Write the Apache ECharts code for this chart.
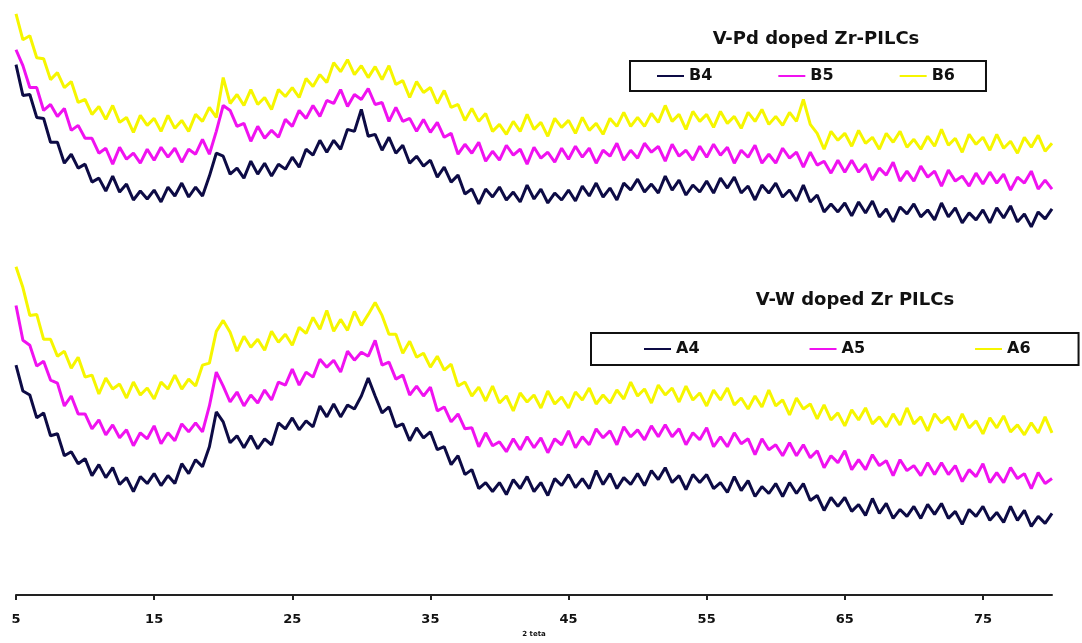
<!DOCTYPE html>
<html>
<head>
<meta charset="utf-8">
<title>XRD V-Pd / V-W doped Zr-PILCs</title>
<script src="https://cdn.jsdelivr.net/npm/echarts@6/dist/echarts.min.js"></script>
<style>
  html, body { margin: 0; padding: 0; background: #fff; }
  #chart { width: 1082px; height: 643px; }
</style>
</head>
<body>
<div id="chart"></div>
<script>
// 2θ sampling grid: 5..80, step 0.5
const twoTheta = [];
for (let t = 5; t <= 80; t += 0.5) twoTheta.push(t);

const tickLabels = [5, 15, 25, 35, 45, 55, 65, 75];

// V-Pd doped Zr-PILCs (upper traces)
const b4 = [533,502,503,480,479,455,455,434,443,429,
  433,415,419,406,421,405,413,397,406,398,
  407,395,410,401,414,400,410,401,421,444,
  441,423,429,419,436,423,434,421,433,428,
  440,430,448,442,457,445,457,448,468,466,
  488,461,463,447,460,444,452,434,441,431,
  437,420,430,415,422,403,408,393,408,400,
  410,397,405,395,412,398,408,394,404,397,
  407,396,411,401,414,400,409,397,414,407,
  418,405,413,404,421,407,417,402,412,405,
  416,404,419,409,420,404,411,397,412,404,
  414,400,407,396,412,395,402,385,393,385,
  394,381,395,384,396,380,388,375,390,383,
  393,380,387,377,394,380,389,374,384,377,
  387,374,389,379,391,375,383,370,385,378,
  388];
const b5 = [548,532,510,510,487,493,481,489,467,472,
  459,459,444,449,433,450,438,444,434,448,
  437,450,440,449,435,448,443,458,443,466,
  492,487,471,474,456,471,459,467,460,478,
  471,487,479,492,481,497,494,508,491,503,
  498,509,493,495,476,490,476,479,466,478,
  465,475,460,464,443,453,444,455,436,446,
  437,452,442,448,433,450,439,445,435,449,
  438,451,440,449,434,447,441,454,437,447,
  439,454,445,451,436,453,441,447,437,451,
  440,453,442,450,434,447,440,452,434,443,
  434,449,439,445,430,445,432,436,424,437,
  425,437,425,433,417,429,422,435,416,426,
  416,431,420,426,411,427,416,421,411,424,
  413,425,414,423,407,420,414,426,408,417,
  408];
const b6 = [584,558,562,540,539,518,525,510,516,495,
  498,483,491,478,492,475,480,465,482,472,
  479,466,482,469,477,466,483,476,490,480,
  520,494,503,492,508,493,500,488,508,501,
  510,500,519,511,523,515,535,526,538,523,
  532,520,531,518,532,513,517,500,516,505,
  510,494,507,490,493,477,489,476,484,466,
  473,463,476,466,483,468,475,461,479,470,
  477,464,480,467,474,463,479,471,485,471,
  480,471,484,475,492,476,483,468,486,476,
  483,470,486,474,481,469,485,476,488,473,
  481,472,485,476,498,473,464,448,466,457,
  464,451,467,454,460,448,464,455,466,450,
  458,448,461,451,468,452,459,445,463,453,
  460,447,463,449,456,444,460,450,462,446,
  454];

// V-W doped Zr PILCs (lower traces)
const a4 = [231,205,201,178,183,160,162,140,144,132,
  137,120,131,118,128,111,118,104,119,112,
  122,110,120,112,132,122,136,129,149,184,
  174,153,160,148,160,147,157,151,173,167,
  178,166,175,169,190,179,192,179,191,187,
  200,218,200,183,189,169,172,155,168,158,
  164,146,149,131,140,121,126,107,113,104,
  113,101,116,107,119,104,113,100,117,110,
  121,108,117,107,125,111,122,107,118,111,
  122,110,125,116,128,113,120,106,121,113,
  121,107,113,103,119,105,115,99,109,102,
  112,99,113,102,112,95,100,85,98,89,
  98,84,91,80,97,82,92,77,86,79,
  89,77,91,81,92,77,84,71,86,79,
  89,75,83,73,89,75,85,69,79,72,
  82];
const a5 = [291,256,251,230,235,216,213,190,200,182,
  182,167,176,161,171,158,166,150,163,157,
  170,152,163,155,172,164,173,164,190,224,
  210,194,204,190,201,193,206,196,214,211,
  227,211,224,219,237,229,236,224,245,236,
  244,240,256,231,234,217,221,201,210,200,
  209,185,189,174,182,167,168,149,163,150,
  154,144,157,146,159,148,158,143,157,151,
  165,148,159,151,167,158,165,151,169,159,
  166,156,170,159,171,159,167,151,163,156,
  168,149,159,149,163,152,157,141,157,146,
  151,140,153,140,151,138,145,128,140,133,
  145,126,136,126,141,130,135,120,136,125,
  130,120,133,121,133,121,130,114,126,119,
  132,113,123,113,128,117,122,107,123,112,
  117];
const a6 = [330,309,281,282,257,257,240,245,228,239,
  219,221,202,218,207,212,198,214,201,208,
  197,214,207,221,207,217,210,231,233,265,
  276,264,245,260,249,257,246,265,254,262,
  251,269,263,279,267,286,265,277,266,285,
  271,282,294,281,262,262,243,255,239,243,
  229,240,226,232,210,214,200,209,195,210,
  193,200,185,203,194,201,188,205,192,199,
  188,204,196,208,192,201,193,206,197,214,
  200,207,193,211,201,208,194,210,196,203,
  190,206,196,208,191,198,187,200,189,206,
  190,196,181,198,187,192,177,191,176,183,
  170,186,176,188,172,179,169,182,171,188,
  172,179,165,182,173,179,166,182,168,175,
  162,178,168,180,164,171,161,173,163,179,
  163];

const NAVY = "#0d0b45";
const MAGENTA = "#f012f0";
const YELLOW = "#f6f600";

const pairs = (vals) => vals.map((v, i) => [twoTheta[i], v]);

function trace(name, vals, color) {
  return {
    name: name,
    type: "line",
    data: pairs(vals),
    symbol: "none",
    showSymbol: false,
    lineStyle: { color: color, width: 3 },
    itemStyle: { color: color },
  };
}

// 图例：细线 + 粗体文字，带黑框
const legendBase = {
  orient: "horizontal",
  borderColor: "#111",
  borderWidth: 2,
  icon: "rect",
  itemWidth: 27,
  itemHeight: 2,
  textStyle: {
    fontFamily: "DejaVu Sans",
    fontWeight: "bold",
    fontSize: 16,
    color: "#111",
  },
};

const titleStyle = { fontFamily: "DejaVu Sans", fontWeight: "bold", fontSize: 18, color: "#111" };

const chart = echarts.init(document.getElementById("chart"));
chart.setOption({
  animation: false,
  backgroundColor: "#fff",
  title: [
    { text: "V-Pd doped Zr-PILCs", left: 816, top: 30, padding: 0, textAlign: "center", textStyle: titleStyle },
    { text: "V-W doped Zr PILCs", left: 855, top: 291, padding: 0, textAlign: "center", textStyle: titleStyle },
  ],
  legend: [
    Object.assign({}, legendBase, {
      data: ["B4", "B5", "B6"],
      left: 630,
      top: 61,
      padding: [7, 31, 7, 27],
      itemGap: 66,
    }),
    Object.assign({}, legendBase, {
      data: ["A4", "A5", "A6"],
      left: 591,
      top: 333,
      padding: [8, 48, 8, 53],
      itemGap: 110,
    }),
  ],
  grid: { left: 16, right: 30, top: 0, bottom: 45 },
  xAxis: {
    type: "value",
    min: 5,
    max: 80,
    name: "2 teta",
    nameLocation: "middle",
    nameGap: 36,
    nameTextStyle: { fontFamily: "DejaVu Sans", fontWeight: "bold", fontSize: 7, color: "#111" },
    axisLine: { lineStyle: { color: "#222", width: 2 } },
    axisTick: { customValues: tickLabels, length: 5, lineStyle: { color: "#222", width: 2 } },
    axisLabel: {
      customValues: tickLabels,
      margin: 18,
      fontFamily: "DejaVu Sans",
      fontWeight: "bold",
      fontSize: 13,
      color: "#111",
    },
    splitLine: { show: false },
  },
  yAxis: { type: "value", min: 0, max: 598, show: false },
  series: [
    trace("B4", b4, NAVY),
    trace("B5", b5, MAGENTA),
    trace("B6", b6, YELLOW),
    trace("A4", a4, NAVY),
    trace("A5", a5, MAGENTA),
    trace("A6", a6, YELLOW),
  ],
});

window.addEventListener("resize", () => chart.resize());
</script>
</body>
</html>
